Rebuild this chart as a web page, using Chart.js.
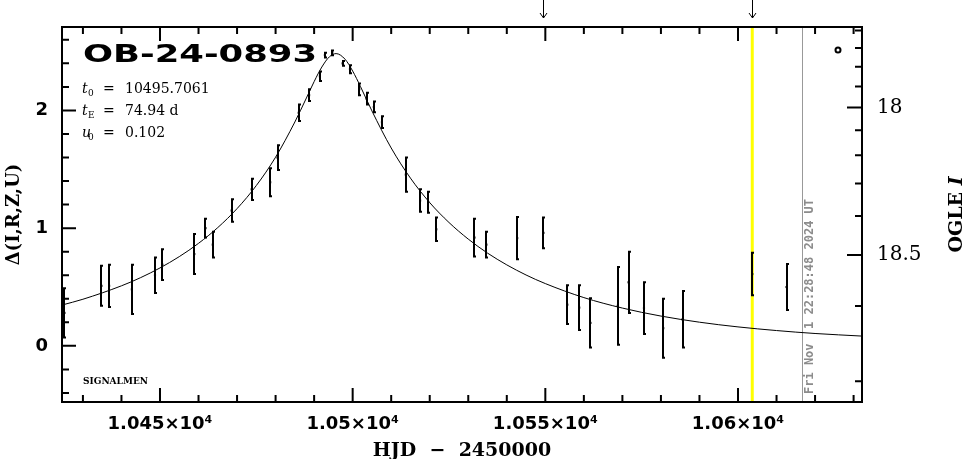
<!DOCTYPE html>
<html>
<head>
<meta charset="utf-8">
<script src="https://cdn.jsdelivr.net/npm/chart.js@4.4.1/dist/chart.umd.min.js"></script>
<style>
  body { margin: 0; background: #fff; }
  #box { width: 965px; height: 459px; position: relative; }
</style>
</head>
<body>
<div id="box"><canvas id="lc"></canvas></div>
<script>
// photometry (HJD - 2450000, delta mag, error)
const hjd = [10425.2, 10434.8, 10436.8, 10442.7, 10448.7, 10450.6, 10458.9, 10461.8, 10463.7, 10468.6,
    10473.8, 10478.6, 10480.5, 10486.0, 10488.7, 10491.5, 10492.8, 10494.7, 10497.4, 10499.3,
    10501.7, 10503.6, 10505.5, 10507.6, 10513.8, 10517.5, 10519.6, 10521.7, 10531.6, 10534.7,
    10542.7, 10549.5, 10555.7, 10558.8, 10561.7, 10568.8, 10571.6, 10575.6, 10580.6, 10585.6,
    10603.7, 10612.6];
const delta = [0.28, 0.51, 0.51, 0.48, 0.60, 0.69, 0.78, 1.00, 0.86, 1.15,
    1.33, 1.39, 1.60, 1.98, 2.13, 2.29, 2.47, 2.49, 2.40, 2.35,
    2.18, 2.10, 2.03, 1.90, 1.455, 1.235, 1.22, 0.99, 0.92, 0.86,
    0.915, 0.96, 0.35, 0.325, 0.195, 0.34, 0.54, 0.32, 0.15, 0.225,
    0.61, 0.50];
const deltaErr = [0.21, 0.17, 0.18, 0.21, 0.15, 0.13, 0.17, 0.08, 0.11, 0.095,
    0.09, 0.12, 0.105, 0.07, 0.05, 0.04, 0.02, 0.02, 0.02, 0.035,
    0.05, 0.05, 0.045, 0.05, 0.145, 0.096, 0.09, 0.10, 0.16, 0.11,
    0.18, 0.13, 0.165, 0.19, 0.21, 0.33, 0.26, 0.22, 0.25, 0.24,
    0.18, 0.195];

// model curve
const modelHjd = [10424.6, 10430, 10440, 10445, 10450, 10455, 10460, 10465, 10470, 10475,
    10480, 10485, 10488, 10490, 10492, 10494, 10495.7, 10498, 10500, 10502,
    10505, 10510, 10515, 10520, 10525, 10530, 10535, 10540, 10545, 10550,
    10560, 10570, 10580, 10590, 10600, 10610, 10620, 10632.2];
const modelDelta = [0.347, 0.396, 0.510, 0.580, 0.662, 0.758, 0.871, 1.005, 1.166, 1.362,
    1.603, 1.902, 2.106, 2.245, 2.369, 2.457, 2.483, 2.436, 2.335, 2.205,
    1.996, 1.681, 1.425, 1.217, 1.048, 0.907, 0.788, 0.688, 0.602, 0.529,
    0.410, 0.321, 0.253, 0.201, 0.161, 0.130, 0.105, 0.083];

// axes
const xMin = 10424.57, xMax = 10632.18;
const yMin = -0.477, yMax = 2.709;
const xTicks = [10450, 10500, 10550, 10600];
const xTickLabels = ['1.045×10⁴', '1.05×10⁴', '1.055×10⁴', '1.06×10⁴'];
const yTicks = [0, 1, 2];
// OGLE I scale on the right (mag, position in delta units)
const ogleMag = [17.6, 17.7, 17.8, 17.9, 18.0, 18.1, 18.2, 18.3, 18.4, 18.5, 18.6, 18.7];
const oglePos = [2.68, 2.53, 2.371, 2.204, 2.025, 1.832, 1.619, 1.380, 1.103, 0.771, 0.339, -0.30];
const ogleMajor = [18.0, 18.5];
const ogleMajorLabels = ['18', '18.5'];

// markers
const arrowDates = [10549.3, 10603.7];
const yellowDate = 10603.7;
const nowDate = 10616.7;
const nowText = 'Fri Nov  1 22:28:48 2024 UT';
const eventName = 'OB-24-0893';
const fitSym = ['t', 't', 'u'];
const fitSub = ['0', 'E', '0'];
const fitVal = ['10495.7061', '74.94 d', '0.102'];

// error bars + vertical lines
const errorBars = {
    id: 'errorBars',
    beforeDatasetsDraw(chart) {
        const { ctx, chartArea, scales: { x } } = chart;
        ctx.save();
        ctx.fillStyle = '#ffff00';
        const xy = x.getPixelForValue(yellowDate);
        ctx.fillRect(xy - 1.5, chartArea.top, 3, chartArea.height);
        ctx.strokeStyle = '#999999';
        ctx.lineWidth = 1;
        const xn = Math.round(x.getPixelForValue(nowDate)) + 0.5;
        ctx.beginPath();
        ctx.moveTo(xn, chartArea.top);
        ctx.lineTo(xn, chartArea.bottom);
        ctx.stroke();
        // date text
        ctx.translate(xn + 7, 394);
        ctx.rotate(-Math.PI / 2);
        ctx.font = 'bold 12px "DejaVu Sans Mono"';
        ctx.fillStyle = '#8c8c8c';
        ctx.textAlign = 'left';
        ctx.textBaseline = 'middle';
        ctx.fillText(nowText, 0, 0);
        ctx.restore();
    },
    afterDatasetsDraw(chart) {
        const { ctx, chartArea, scales: { x, y } } = chart;
        ctx.save();
        ctx.beginPath();
        ctx.rect(chartArea.left, chartArea.top, chartArea.width, chartArea.height);
        ctx.clip();
        ctx.strokeStyle = '#000';
        ctx.lineWidth = 2;
        hjd.forEach(function (t, i) {
            const px = Math.round(x.getPixelForValue(t));
            const top = y.getPixelForValue(delta[i] + deltaErr[i]);
            const bot = y.getPixelForValue(delta[i] - deltaErr[i]);
            ctx.beginPath();
            ctx.moveTo(px, top);
            ctx.lineTo(px, bot);
            ctx.moveTo(px - 1, top);
            ctx.lineTo(px + 2, top);
            ctx.moveTo(px - 1, bot);
            ctx.lineTo(px + 2, bot);
            ctx.stroke();
        });
        ctx.restore();
    }
};

// frame, inward ticks, texts
const frame = {
    id: 'frame',
    afterDraw(chart) {
        const { ctx, chartArea: a, scales: { x, y } } = chart;
        ctx.save();
        ctx.strokeStyle = '#000';
        ctx.lineWidth = 2;
        ctx.strokeRect(a.left, a.top, a.width, a.height);
        ctx.beginPath();
        for (let t = 10430; t <= 10630; t += 10) {
            const px = x.getPixelForValue(t);
            const len = t % 50 === 0 ? 14 : 7;
            ctx.moveTo(px, a.bottom); ctx.lineTo(px, a.bottom - len);
            ctx.moveTo(px, a.top); ctx.lineTo(px, a.top + len);
        }
        for (let k = -2; k <= 13; k++) {
            const py = y.getPixelForValue(k * 0.2);
            const len = k % 5 === 0 ? 14 : 7;
            ctx.moveTo(a.left, py); ctx.lineTo(a.left + len, py);
        }
        ogleMag.forEach(function (m, i) {
            const py = y.getPixelForValue(oglePos[i]);
            const len = ogleMajor.indexOf(m) >= 0 ? 15 : 7;
            ctx.moveTo(a.right, py); ctx.lineTo(a.right - len, py);
        });
        ctx.stroke();

        // small circle symbol
        ctx.lineWidth = 2;
        ctx.beginPath();
        ctx.arc(a.right - 24, a.top + 23, 2.5, 0, Math.PI * 2);
        ctx.stroke();

        // arrows above plot
        ctx.lineWidth = 1;
        ctx.beginPath();
        arrowDates.forEach(function (t) {
            const px = Math.round(x.getPixelForValue(t)) + 0.5;
            ctx.moveTo(px, 0); ctx.lineTo(px, 18);
            ctx.moveTo(px - 3.5, 13); ctx.lineTo(px, 18); ctx.lineTo(px + 3.5, 13);
        });
        ctx.stroke();

        ctx.fillStyle = '#000';
        // event name, stretched wide
        ctx.font = 'bold 24px "DejaVu Sans"';
        ctx.textBaseline = 'alphabetic';
        ctx.textAlign = 'left';
        const w = ctx.measureText(eventName).width;
        ctx.save();
        ctx.translate(83, 62);
        ctx.scale(234 / w, 1);
        ctx.fillText(eventName, 0, 0);
        ctx.restore();

        // fit parameters
        fitSym.forEach(function (s, i) {
            const by = 93 + i * 21.8;
            ctx.font = 'italic 14px "DejaVu Serif"';
            ctx.fillText(s, 82, by);
            ctx.font = '9px "DejaVu Serif"';
            ctx.fillText(fitSub[i], 88, by + 3);
            ctx.font = '14px "DejaVu Serif"';
            ctx.fillText('=', 103, by);
            ctx.fillText(fitVal[i], 125, by);
        });

        ctx.font = 'bold 9px "DejaVu Serif"';
        ctx.fillText('SIGNALMEN', 83, 384);

        // axis titles
        ctx.font = 'bold 19px "DejaVu Serif"';
        ctx.textAlign = 'center';
        ctx.fillText('HJD  −  2450000', (a.left + a.right) / 2, 455.5);

        ctx.save();
        ctx.translate(19, (a.top + a.bottom) / 2);
        ctx.rotate(-Math.PI / 2);
        ctx.font = 'bold 18px "DejaVu Serif"';
        ctx.fillText('Δ(I,R,Z,U)', 0, 0);
        ctx.restore();

        ctx.save();
        ctx.translate(962, (a.top + a.bottom) / 2);
        ctx.rotate(-Math.PI / 2);
        ctx.textAlign = 'left';
        ctx.font = 'bold 19px "DejaVu Serif"';
        const w1 = ctx.measureText('OGLE ').width;
        ctx.font = 'bold italic 19px "DejaVu Serif"';
        const w2 = ctx.measureText('I').width;
        ctx.font = 'bold 19px "DejaVu Serif"';
        ctx.fillText('OGLE ', -(w1 + w2) / 2, 0);
        ctx.font = 'bold italic 19px "DejaVu Serif"';
        ctx.fillText('I', -(w1 + w2) / 2 + w1, 0);
        ctx.restore();
        ctx.restore();
    }
};

const ctx1 = document.getElementById('lc');
const lightCurve = new Chart(ctx1, {
    type: 'scatter',
    data: {
        datasets: [{
            label: 'model',
            data: modelHjd.map(function (t, i) { return { x: t, y: modelDelta[i] }; }),
            showLine: true,
            borderColor: '#000',
            borderWidth: 1,
            pointRadius: 0,
            cubicInterpolationMode: 'monotone'
        }, {
            label: 'OGLE',
            data: hjd.map(function (t, i) { return { x: t, y: delta[i] }; }),
            pointStyle: 'rect',
            pointRadius: 1.5,
            backgroundColor: '#000',
            borderWidth: 0
        }]
    },
    options: {
        responsive: true,
        maintainAspectRatio: false,
        animation: false,
        devicePixelRatio: 1,
        layout: { padding: { top: 26, left: 0, right: 0, bottom: 0 } },
        plugins: {
            legend: { display: false },
            tooltip: { enabled: false }
        },
        scales: {
            x: {
                type: 'linear',
                position: 'bottom',
                min: xMin,
                max: xMax,
                afterBuildTicks: function (s) { s.ticks = xTicks.map(function (v) { return { value: v }; }); },
                afterFit: function (s) { s.height = 57; },
                grid: { display: false, drawTicks: false },
                border: { display: false },
                ticks: {
                    color: '#000',
                    padding: 12,
                    maxRotation: 0,
                    autoSkip: false,
                    font: { family: 'DejaVu Sans', size: 18, weight: 'bold' },
                    callback: function (v) { return xTickLabels[xTicks.indexOf(v)]; }
                }
            },
            y: {
                type: 'linear',
                position: 'left',
                min: yMin,
                max: yMax,
                afterBuildTicks: function (s) { s.ticks = yTicks.map(function (v) { return { value: v }; }); },
                afterFit: function (s) { s.width = 62; },
                grid: { display: false, drawTicks: false },
                border: { display: false },
                ticks: {
                    color: '#000',
                    padding: 14,
                    font: { family: 'DejaVu Sans', size: 18, weight: 'bold' },
                    callback: function (v) { return String(v); }
                }
            },
            yR: {
                type: 'linear',
                position: 'right',
                min: yMin,
                max: yMax,
                afterBuildTicks: function (s) {
                    s.ticks = ogleMajor.map(function (m) { return { value: oglePos[ogleMag.indexOf(m)] }; });
                },
                afterFit: function (s) { s.width = 103; },
                grid: { display: false, drawTicks: false },
                border: { display: false },
                ticks: {
                    color: '#000',
                    padding: 15,
                    font: { family: 'DejaVu Serif', size: 20 },
                    callback: function (v, i) { return ogleMajorLabels[i]; }
                }
            }
        }
    },
    plugins: [errorBars, frame]
});
</script>
</body>
</html>
